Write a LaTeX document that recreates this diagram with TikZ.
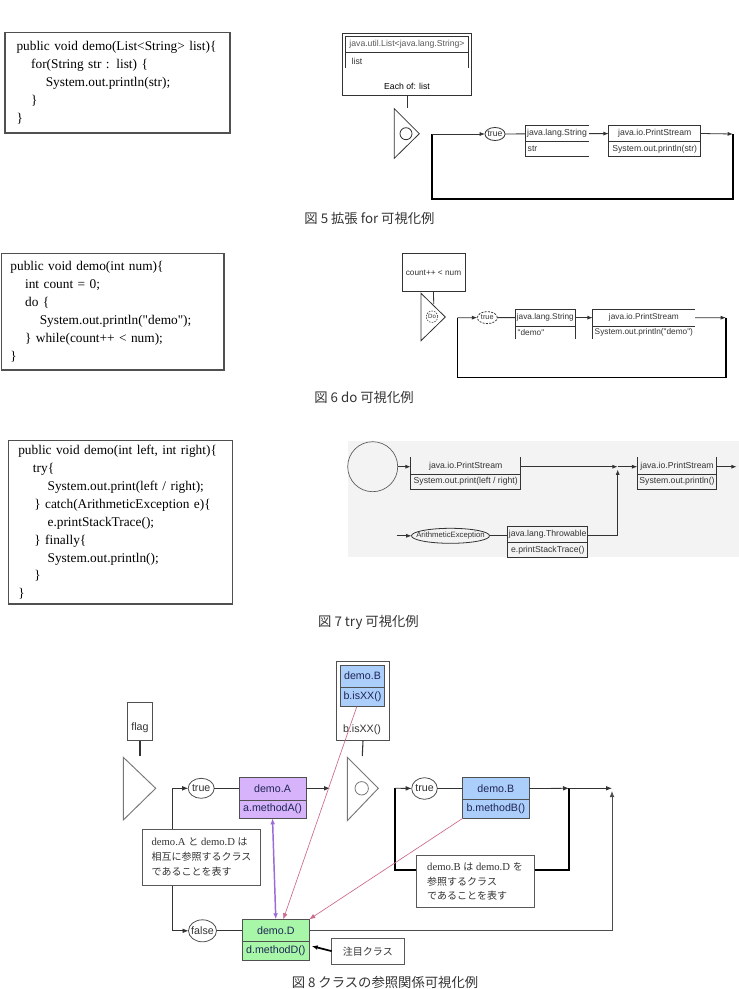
\documentclass[tikz,border=0pt]{standalone}
\usepackage{fontspec}
\setmainfont{Liberation Serif}
\setsansfont{Liberation Sans}
\newfontfamily\jp{Noto Sans CJK JP}
\newcommand\JPt[1]{{\jp\fontsize{7.5}{11}\selectfont #1}}
\usetikzlibrary{arrows.meta,shapes.geometric}
\definecolor{cbord}{HTML}{505050}
\definecolor{dline}{HTML}{333333}
\definecolor{dtext}{HTML}{333333}
\definecolor{capc}{HTML}{333333}
\definecolor{bgc}{HTML}{F3F3F3}
\definecolor{pA}{HTML}{D6B3FA}
\definecolor{pB}{HTML}{ACCEFA}
\definecolor{pD}{HTML}{A8F7A8}
\definecolor{navy}{HTML}{1F2555}
\definecolor{pk}{HTML}{CC6B8E}
\definecolor{pu}{HTML}{9B6BD6}
\definecolor{trig}{HTML}{777777}
\definecolor{bord8}{HTML}{505050}
\begin{document}
\begin{tikzpicture}[x=0.75pt,y=-0.75pt,
 sz/.style 2 args={minimum width=#1*0.75pt,minimum height=#2*0.75pt,inner sep=0pt,outer sep=0pt},
 codebox/.style={draw=cbord,line width=1pt,anchor=north west,align=left,font=\rmfamily\fontsize{10}{13.5}\selectfont},
 lab/.style={font=\sffamily\fontsize{6.5}{7.5}\selectfont,text=dtext},
 lab6/.style={font=\sffamily\fontsize{6.2}{7}\selectfont,text=dtext},
 lab8/.style={font=\sffamily\fontsize{8}{9}\selectfont,text=navy},
 dl/.style={draw=dline,line width=0.6pt},
 arr/.style={-{Latex[length=4pt,width=3pt]}},
 arr8/.style={-{Latex[length=4.5pt,width=3.5pt]}},
 ell/.style={ellipse,draw=dline,line width=0.6pt,fill=white},
 notebox/.style={draw=gray!70!black,fill=white,line width=0.6pt,align=left,text=gray!40!black,font=\rmfamily\fontsize{8}{11}\selectfont},
 captxt/.style={font=\jp\fontsize{10}{12}\selectfont,text=capc},
 tripath/.style={draw=trig,line width=0.7pt},
 cls/.style={draw=bord8,line width=0.6pt,lab8}
]
\useasboundingbox (0,0) rectangle (739,989);
\fill[white] (0,0) rectangle (739,989);

% ---------------- Figure 5 ----------------
\node[codebox,sz={225}{100.5},inner xsep=8.6pt,text width=151.5pt] (code5) at (5,32.5)
 {public void demo(List<String> list)\{\\
  \hspace*{11pt}for(String str : list) \{\\
  \hspace*{22pt}System.out.println(str);\\
  \hspace*{11pt}\}\\
  \}};
\node[draw=dline,line width=0.8pt,sz={129.4}{62.4}] (box5) at (407,64.5) {};
\node[draw=dline,line width=0.6pt,sz={122.6}{16.7},lab,text=gray!70!black] (h5) at (407,44.35) {java.util.List<java.lang.String>};
\draw[dl] (h5.south west) -- ++(0,15) (h5.south east) -- ++(0,15);
\node[lab,anchor=west] (list5) at (347,61.7) {list};
\node[lab,text=black] (each5) at (407,86.7) {Each of: list};
\coordinate (t5top) at (407,108.3);
\draw[dl] (box5.south) -- (t5top);
\draw[dl] (394.3,108.7) -- (419.3,133.7) -- (394.3,158.3) -- cycle;
\node[circle,draw=dline,line width=0.6pt,minimum size=12*0.75pt,inner sep=0pt] (c5) at (406,133.7) {};
\node[ell,sz={20}{13}] (true5) at (495,134) {};
\node[lab] (true5t) at (true5) {true};
\node[sz={64}{16},lab] (str5h) at (557,133.7) {java.lang.String};
\node[sz={64}{15},lab,text width=44pt,align=left] (str5b) at (557,149.2) {str};
\draw[dl] (str5h.north east) -- (str5h.north west) -- (str5b.south west) -- (str5b.south east)
 (str5h.south west) -- (str5h.south east);
\node[draw=dline,line width=0.6pt,sz={92}{16.4},lab] (ps5h) at (654.7,133.5) {java.io.PrintStream};
\node[draw=dline,line width=0.6pt,sz={92}{15},lab] (ps5b) at (654.7,149.2) {System.out.println(str)};
\coordinate (l5) at (431.7,134);
\coordinate (r5) at (733,134);
\draw[line width=1.6pt] (r5) -- ++(0,65) -| (l5);
\draw[dl,arr] (l5) -- (true5);
\draw[dl] (true5) -- (str5h);
\draw[dl,arr] (str5h) -- (ps5h);
\draw[dl,arr] (ps5h.east) -- (r5);
\node[captxt] (cap5) at (369.5,218) {図 5 拡張 for 可視化例};

% ---------------- Figure 6 ----------------
\node[codebox,sz={222.5}{116.7},inner xsep=6.7pt,text width=153.5pt,font=\rmfamily\fontsize{10}{13.6}\selectfont] (code6) at (1.5,253.3)
 {public void demo(int num)\{\\
  \hspace*{11pt}int count = 0;\\
  \hspace*{11pt}do \{\\
  \hspace*{22pt}System.out.println(\textquotedbl demo\textquotedbl);\\
  \hspace*{11pt}\} while(count++ < num);\\
  \}};
\node[draw=dline,line width=0.6pt,sz={63}{38.4},lab6] (cond6) at (433.5,272.5) {count++ < num};
\coordinate (t6top) at (433.7,304);
\draw[dl] (cond6.south) -- (t6top);
\draw[dl] (421,293.3) -- (445.3,317) -- (421,340.7) -- cycle;
\node[circle,draw=dline,dashed,dash pattern=on 1.2pt off 0.8pt,line width=0.4pt,minimum size=11.5*0.75pt,inner sep=0pt] (do6) at (432,316.7) {};
\node[font=\sffamily\fontsize{4.6}{5}\selectfont,text=dtext,inner sep=0pt] (do6t) at (do6) {Do};
\node[ell,dashed,dash pattern=on 1.5pt off 1pt,sz={20}{12}] (true6) at (487.3,317.6) {};
\node[font=\sffamily\fontsize{5.5}{6}\selectfont,text=dtext] (true6t) at (true6) {true};
\node[sz={60.7}{16.7},lab6] (str6h) at (545.35,317.65) {java.lang.String};
\node[sz={60.7}{13.3},lab6,text width=41.5pt,align=left] (str6b) at (545.35,332.65) {\textquotedbl demo\textquotedbl};
\draw[dl] (str6b.south west) -- (str6h.north west) -- (str6h.north east) -- (str6b.south east)
 (str6h.south west) -- (str6h.south east);
\node[sz={102.3}{16.7},lab6] (ps6h) at (643.85,317.65) {java.io.PrintStream};
\node[sz={102.3}{13.3},lab6] (ps6b) at (643.85,332.65) {System.out.println(\textquotedbl demo\textquotedbl)};
\draw[dl] (ps6b.south west) -- (ps6h.north west) -- (ps6h.north east)
 (ps6h.south west) -- (ps6h.south east);
\coordinate (l6) at (457.3,317.7);
\coordinate (r6) at (726,317.7);
\draw[line width=1pt] (r6) -- ++(0,60) -| (l6);
\draw[dl,arr] (l6) -- (true6);
\draw[dl] (true6) -- (str6h);
\draw[dl,arr] (str6h) -- (ps6h);
\draw[dl,arr] (ps6h.east) -- (r6);
\node[captxt] (cap6) at (364,397) {図 6 do 可視化例};

% ---------------- Figure 7 ----------------
\node[codebox,sz={224}{163.3},inner xsep=7.5pt,text width=153pt,font=\rmfamily\fontsize{10}{13.45}\selectfont] (code7) at (8.3,440.7)
 {public void demo(int left, int right)\{\\
  \hspace*{11pt}try\{\\
  \hspace*{22pt}System.out.print(left / right);\\
  \hspace*{12pt}\} catch(ArithmeticException e)\{\\
  \hspace*{22pt}e.printStackTrace();\\
  \hspace*{12pt}\} finally\{\\
  \hspace*{22pt}System.out.println();\\
  \hspace*{12pt}\}\\
  \}};
\fill[bgc] (348.3,440.7) rectangle (739,557.3);
\node[circle,draw=gray!70!black,line width=0.5pt,minimum size=50*0.75pt,inner sep=0pt] (circ7) at (372.7,466.7) {};
\node[sz={110}{17},lab] (ps7ah) at (465.7,465.8) {java.io.PrintStream};
\node[sz={110}{14.7},lab] (ps7ab) at (465.7,481.65) {System.out.print(left / right)};
\draw[dl] (ps7ah.north west) -- (ps7ab.south west) -- (ps7ab.south east) -- (ps7ah.north east)
 (ps7ah.south west) -- (ps7ah.south east);
\node[sz={79.4}{17},lab] (ps7bh) at (677,465.8) {java.io.PrintStream};
\node[sz={79.4}{14.7},lab] (ps7bb) at (677,481.65) {System.out.println()};
\draw[dl] (ps7bh.north west) -- (ps7bb.south west) -- (ps7bb.south east) -- (ps7bh.north east)
 (ps7bh.south west) -- (ps7bh.south east);
\coordinate (m7) at (617.7,466.7);
\coordinate (m7b) at (617.7,469.5);
\coordinate (r7) at (736.7,466.7);
\draw[dl,arr] (circ7.east) -- (circ7.east -| ps7ah.west);
\draw[dl,arr] (ps7ah.east |- m7) -- (m7);
\draw[dl,arr] (m7) -- (m7 -| ps7bh.west);
\draw[dl,arr] (ps7bh.east |- r7) -- (r7);
\node[ell,fill=none,sz={78}{15}] (exc) at (450.5,535.8) {};
\node[font=\sffamily\fontsize{5.8}{6.5}\selectfont,text=dtext] (exct) at (exc) {ArithmeticException};
\coordinate (l7) at (396.7,535.8);
\draw[dl,arr] (l7) -- (exc);
\node[draw=dline,line width=0.6pt,sz={80}{16},lab] (thrh) at (547.7,534.7) {java.lang.Throwable};
\node[draw=dline,line width=0.6pt,sz={80}{14.6},lab] (thrb) at (547.7,550) {e.printStackTrace()};
\draw[dl] (exc.east) -- (thrh.west |- exc.east);
\draw[dl,arr] (thrh.east |- exc.east) -| (m7b);
\node[captxt] (cap7) at (368.5,622) {図 7 try 可視化例};

% ---------------- Figure 8 ----------------
\node[draw=bord8,line width=0.6pt,sz={25.4}{38}] (flag) at (140,721.7) {};
\node[lab8,text=dtext] (flagt) at (140,728) {flag};
\coordinate (t1top) at (140,756);
\draw[line width=1.2pt,draw=dline] (flag.south) -- (t1top);
\draw[tripath] (123.3,757.3) -- (155.7,788.3) -- (123.3,820) -- cycle;

\node[draw=bord8,line width=0.6pt,sz={52.6}{79}] (cB) at (363,701.2) {};
\node[cls,fill=pB,sz={43.6}{22.3}] (cBh) at (362.5,676.15) {demo.B};
\node[cls,fill=pB,sz={43.6}{19.4}] (cBb) at (362.5,697) {b.isXX()};
\node[lab8,text=dtext] (cBt) at (362,730) {b.isXX()};
\coordinate (t2top) at (362.3,756);
\draw[draw=dline,line width=0.8pt] (cB.south) -- (t2top);
\draw[tripath] (347.3,757.3) -- (378.3,788.3) -- (347.3,820.7) -- cycle;
\node[circle,draw=trig,line width=0.6pt,minimum size=13.4*0.75pt,inner sep=0pt] (c8) at (361.7,788.3) {};

\node[ell,draw=bord8,sz={26}{20}] (tA) at (201.2,788.3) {};
\node[lab8,text=dtext] (tAt) at (tA) {true};
\node[ell,draw=bord8,sz={28}{22}] (fA) at (202.5,930.8) {};
\node[lab8,text=dtext] (fAt) at (fA) {false};
\coordinate (v8) at (172,859);
\draw[dl,arr8] (v8) |- (tA);
\draw[dl,arr8] (v8) |- (fA);

\node[cls,fill=pA,sz={67}{22.3}] (dAh) at (272.5,788.85) {demo.A};
\node[cls,fill=pA,sz={67}{18.3}] (dAb) at (272.5,809.15) {a.methodA()};
\coordinate (aAend) at (330,788.3);
\draw[dl] (tA) -- (dAh.west |- tA);
\draw[dl,arr8] (dAh.east |- tA) -- (aAend);

\coordinate (l8) at (395,788.3);
\coordinate (r8) at (569,788.3);
\coordinate (j8) at (612,788.3);
\coordinate (j8b) at (612,791);
\draw[line width=2pt] (l8) -- ++(0,81.7) -| (r8);
\node[ell,draw=bord8,sz={25.6}{21.6}] (tB) at (424.5,788.5) {};
\node[lab8,text=dtext] (tBt) at (tB) {true};
\draw[dl,arr8] (l8) -- (tB);
\node[cls,fill=pB,sz={66.3}{21.6}] (dBh) at (495.85,788.5) {demo.B};
\node[cls,fill=pB,sz={66.3}{19}] (dBb) at (495.85,808.8) {b.methodB()};
\draw[dl] (tB) -- (dBh);
\draw[dl,arr8] (dBh.east) -- (r8);
\draw[dl,arr8] (r8) -- (j8);

\node[cls,fill=pD,sz={67}{22.4}] (dDh) at (275.8,930.5) {demo.D};
\node[cls,fill=pD,sz={67}{18.3}] (dDb) at (275.8,950.85) {d.methodD()};
\draw[dl] (fA) -- (dDh.west |- fA);
\draw[draw=gray!60!black,line width=0.6pt,arr8] (dDh.east) -| (j8b);

\node[notebox,sz={118.4}{56}] (n1) at (201.5,857)
 {demo.A \JPt{と} demo.D \JPt{は}\\ \JPt{相互に参照するクラス}\\ \JPt{であることを表す}};
\node[notebox,sz={118}{51.6}] (n2) at (475,881.5)
 {demo.B \JPt{は} demo.D \JPt{を}\\ \JPt{参照するクラス}\\ \JPt{であることを表す}};
\node[notebox,sz={72.3}{25.7},align=center] (n3) at (367.85,951.15) {\JPt{注目クラス}};

\draw[pu,line width=1.1pt,{Latex[length=4.5pt,width=3.5pt]}-{Latex[length=4.5pt,width=3.5pt]}] (dAb.south) -- (dDh.north);
\draw[pk,line width=0.5pt,arr8] ([xshift=-4.3pt]cBb.south) -- ([xshift=5.6pt]dDh.north);
\draw[pk,line width=0.5pt,arr8] (dBb.south west) -- (dDh.north east);
\draw[line width=1.3pt,arr8] (n3.west) -- ([xshift=1.8pt,yshift=3.6pt]dDb.east);

\node[captxt] (cap8) at (385,982) {図 8 クラスの参照関係可視化例};
\end{tikzpicture}
\end{document}
